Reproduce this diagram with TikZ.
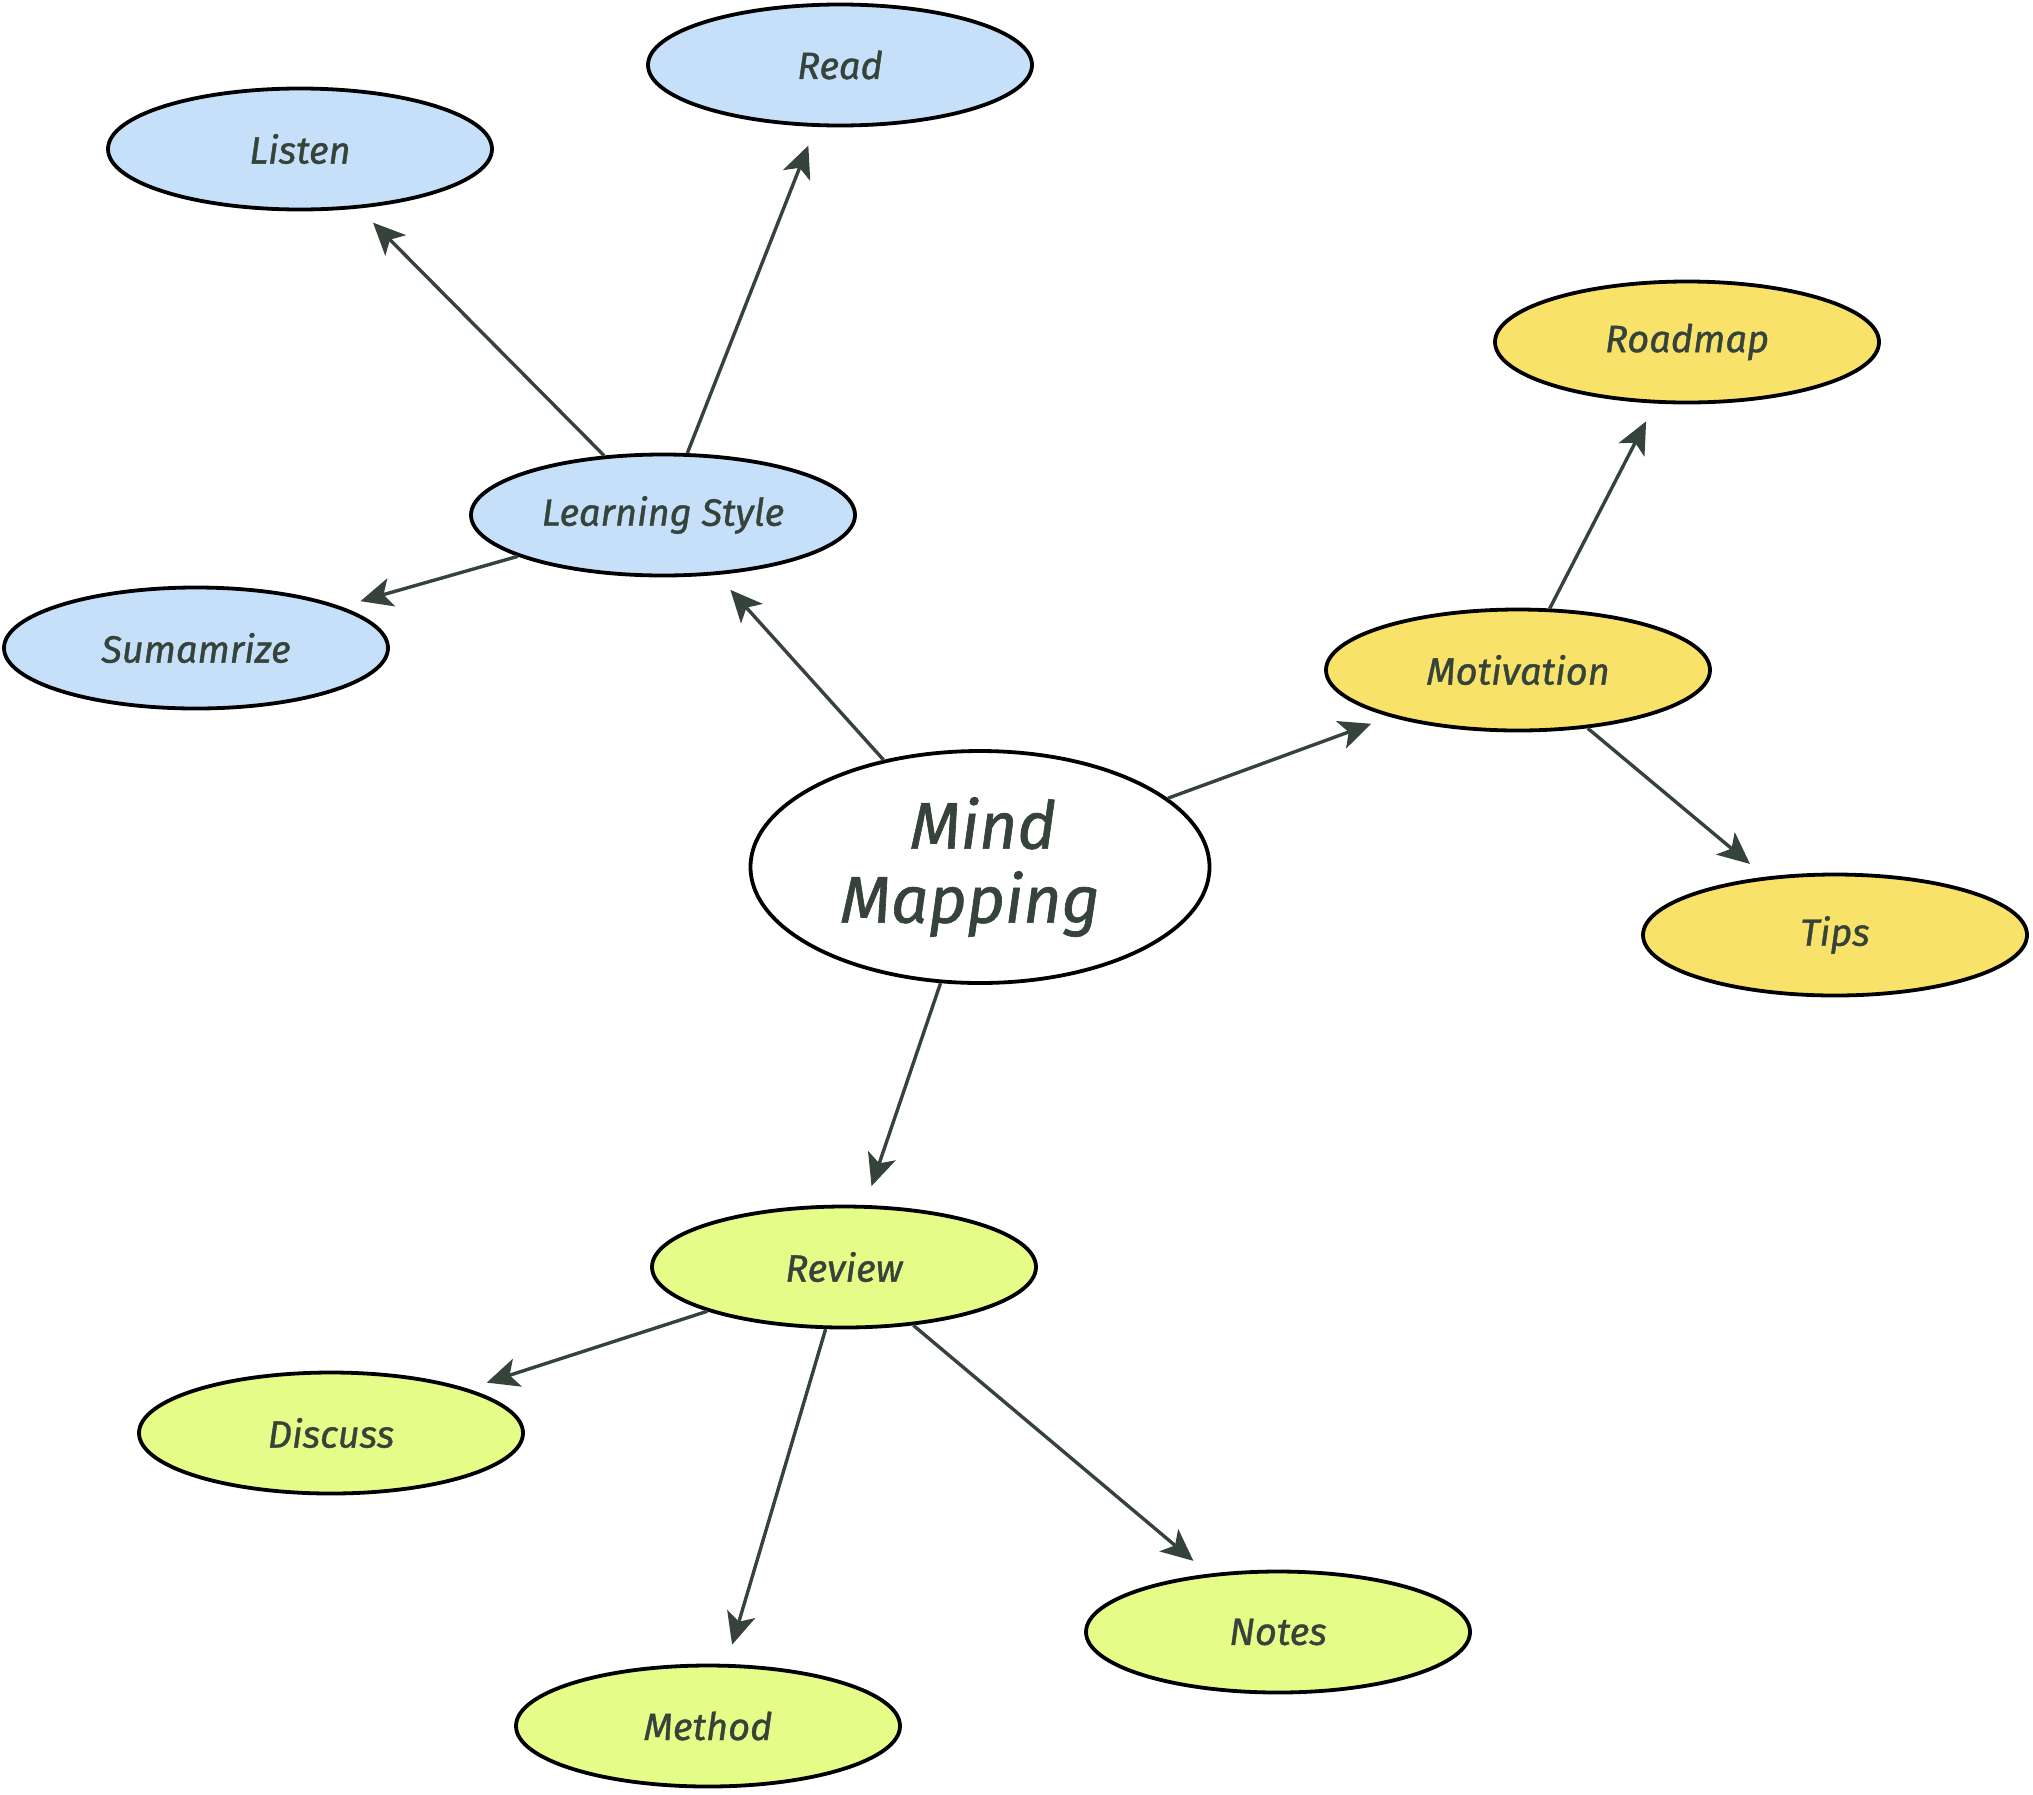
\documentclass[tikz,border=0pt]{standalone}
\usepackage{fontspec}
\setmainfont{Fira Sans}[ItalicFeatures={FakeBold=1}]
\usetikzlibrary{shapes.geometric,arrows.meta}
\definecolor{txt}{HTML}{36433A}
\definecolor{blu}{HTML}{C6E0FA}
\definecolor{yel}{HTML}{F8E26A}
\definecolor{grn}{HTML}{E5FC88}
\tikzset{
  bub/.style={ellipse, draw=black, line width=3.8pt, minimum width=384pt, minimum height=121pt,
    inner sep=0pt, text=txt, font=\fontsize{38}{44}\selectfont\itshape},
  bblue/.style={bub, fill=blu},
  byel/.style={bub, fill=yel},
  bgrn/.style={bub, fill=grn},
  link/.style={draw=txt, line width=3.4pt, -{Stealth[length=32pt,width=29pt,inset=8pt]}, shorten >=20pt}
}
\begin{document}
\begin{tikzpicture}[x=1pt,y=-1pt]
\useasboundingbox (0,0) rectangle (2033,1794);
\node[bub, fill=white, minimum width=459pt, minimum height=232pt, align=center,
  font=\fontsize{66}{74}\selectfont\itshape] (mind) at (980,867) {Mind\hspace*{-6pt}\\Mapping\hspace*{20pt}};
\node[bblue] (read) at (840,65) {Read};
\node[bblue] (listen) at (300,149) {Listen};
\node[bblue] (ls) at (663,515) {Learning Style};
\node[bblue] (sum) at (196,648) {Sumamrize};
\node[byel] (road) at (1687,342) {Roadmap};
\node[byel] (mot) at (1518,670) {Motivation};
\node[byel] (tips) at (1835,935) {Tips};
\node[bgrn] (rev) at (844,1267) {Review};
\node[bgrn] (disc) at (331,1433) {Discuss};
\node[bgrn] (meth) at (708,1726) {Method};
\node[bgrn] (notes) at (1278,1632) {Notes};
\draw[link] (mind) -- (ls);
\draw[link] (ls) -- (listen);
\draw[link] (ls) -- (read);
\draw[link] (ls) -- (sum);
\draw[link] (mind) -- (mot);
\draw[link] (mot) -- (road);
\draw[link] (mot) -- (tips);
\draw[link] (mind) -- (rev);
\draw[link] (rev) -- (disc);
\draw[link] (rev) -- (meth);
\draw[link] (rev) -- (notes);
\end{tikzpicture}
\end{document}
